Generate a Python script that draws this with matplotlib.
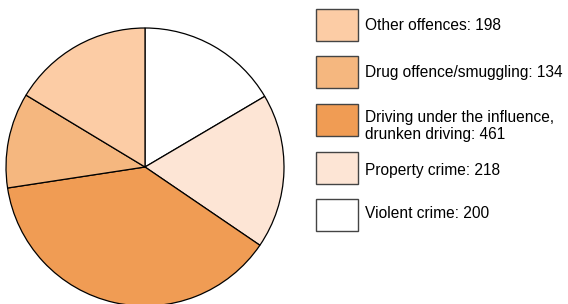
import matplotlib
matplotlib.use("Agg")
import matplotlib.pyplot as plt
from matplotlib.patches import Rectangle

categories = ["Violent crime", "Property crime", "Driving under the influence,\ndrunken driving",
              "Drug offence/smuggling", "Other offences"]
values = [200, 218, 461, 134, 198]
colors = ["#FFFFFF", "#FDE5D5", "#F09C54", "#F5B77F", "#FCCCA5"]

W, H = 568, 304
fig = plt.figure(figsize=(W / 100, H / 100), dpi=100)
plt.rcParams['font.family'] = ['Liberation Sans', 'DejaVu Sans']

# pie axes (pixel geometry)
cx, cy, r = 145, 167, 139
ax = fig.add_axes([(cx - r) / W, (H - cy - r) / H, 2 * r / W, 2 * r / H])
ax.pie(values, colors=colors, startangle=90, counterclock=False,
       wedgeprops=dict(edgecolor="black", linewidth=0.9))
ax.set_xlim(-1, 1)
ax.set_ylim(-1, 1)
ax.set_aspect("equal")
ax.axis("off")

# legend (top to bottom: reverse order)
box_tops = [9, 56, 104, 152, 199]
text_offsets = [17, 16, 22, 18, 15]
bx, bw, bh = 316, 42, 32
order = list(range(len(values)))[::-1]
for top, dy, i in zip(box_tops, text_offsets, order):
    fig.patches.append(Rectangle((bx / W, (H - top - bh) / H), bw / W, bh / H,
                                 transform=fig.transFigure, facecolor=colors[i],
                                 edgecolor="#444444", linewidth=1.0))
    fig.text(365 / W, (H - top - dy) / H, f"{categories[i]}: {values[i]}",
             ha="left", va="center", fontsize=11.2, color="black", linespacing=1.1)

fig.savefig("out.png", dpi=100)
